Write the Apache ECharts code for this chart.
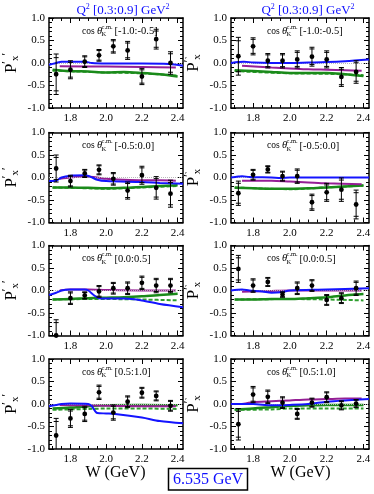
<!DOCTYPE html>
<html>
<head>
<meta charset="utf-8">
<script src="https://cdn.jsdelivr.net/npm/echarts@6/dist/echarts.min.js"></script>
<style>
html, body { margin: 0; padding: 0; background: #fff; }
#chart { width: 374px; height: 494px; }
</style>
</head>
<body>
<div id="chart"></div>
<script>
// measured W points (GeV)
var wPoints = [1.72, 1.80, 1.88, 1.96, 2.04, 2.12, 2.20, 2.28, 2.36];
var binLabels = ['[-1.0:-0.5]', '[-0.5:0.0]', '[0.0:0.5]', '[0.5:1.0]'];
var xTickLabels = [1.8, 2.0, 2.2, 2.4];
var xMinorTicks = [1.70, 1.75, 1.85, 1.90, 1.95, 2.05, 2.10, 2.15, 2.25, 2.30, 2.35];
var yTickLabels = [-1.0, -0.5, 0.0, 0.5, 1.0];

// left column (P'x')
var pxL1 = [-0.25, -0.15, 0.03, 0.17, 0.37, 0.28, -0.30, 0.53, 0.00];
var errL1 = [0.45, 0.20, 0.13, 0.13, 0.15, 0.20, 0.18, 0.22, 0.25];
var pxL2 = [0.20, -0.08, 0.09, 0.17, -0.03, -0.29, 0.05, -0.23, -0.36];
var errL2 = [0.30, 0.13, 0.09, 0.11, 0.14, 0.19, 0.20, 0.25, 0.30];
var pxL3 = [-1.00, -0.17, -0.11, -0.02, 0.05, 0.05, 0.17, 0.11, 0.11];
var errL3 = [0.35, 0.14, 0.08, 0.13, 0.13, 0.14, 0.15, 0.16, 0.16];
var pxL4 = [-0.70, -0.32, -0.22, 0.26, -0.19, 0.05, 0.25, 0.18, -0.04];
var errL4 = [0.38, 0.20, 0.17, 0.16, 0.17, 0.13, 0.12, 0.11, 0.12];

// right column (P'x)
var pxR1 = [0.15, 0.37, 0.05, 0.05, 0.08, 0.14, 0.08, -0.31, -0.20];
var errR1 = [0.42, 0.19, 0.16, 0.16, 0.19, 0.21, 0.19, 0.21, 0.25];
var pxR2 = [-0.35, 0.06, 0.18, 0.03, 0.03, -0.55, -0.33, -0.27, -0.60];
var errR2 = [0.27, 0.12, 0.08, 0.11, 0.16, 0.18, 0.20, 0.26, 0.32];
var pxR3 = [0.48, 0.11, 0.19, -0.09, 0.05, 0.11, -0.21, -0.17, 0.05];
var errR3 = [0.30, 0.15, 0.10, 0.06, 0.14, 0.13, 0.12, 0.12, 0.16];
var pxR4 = [-0.45, 0.21, 0.16, 0.03, -0.22, 0.03, 0.15, -0.03, 0.01];
var errR4 = [0.35, 0.18, 0.15, 0.13, 0.12, 0.10, 0.12, 0.10, 0.09];

// model curves [W, P]
var blueL1 = [[1.68, -0.04], [1.70, -0.02], [1.72, 0.00], [1.75, 0.03], [1.80, 0.03], [1.88, 0.03], [1.92, 0.00], [2.00, -0.01], [2.20, -0.01], [2.35, -0.02], [2.43, -0.06]];
var purpleL1 = [[1.74, -0.07], [2.00, -0.08], [2.20, -0.09], [2.39, -0.10]];
var greenL1 = [[1.70, -0.15], [1.80, -0.18], [1.90, -0.19], [2.00, -0.21], [2.10, -0.20], [2.20, -0.22], [2.30, -0.25], [2.40, -0.30]];
var dashL1 = [[1.70, -0.17], [2.00, -0.21], [2.20, -0.23], [2.40, -0.28]];

var blueL2 = [[1.68, -0.08], [1.72, -0.07], [1.75, 0.00], [1.80, 0.04], [1.88, 0.05], [1.91, 0.02], [1.95, -0.05], [2.00, -0.08], [2.20, -0.10], [2.30, -0.12], [2.43, -0.14]];
var purpleL2 = [[1.74, -0.03], [1.80, 0.00], [1.88, 0.02], [1.95, 0.00], [2.00, -0.03], [2.10, -0.05], [2.20, -0.06], [2.30, -0.06], [2.39, -0.07]];
var greenL2 = [[1.70, -0.22], [1.80, -0.22], [1.90, -0.23], [2.00, -0.24], [2.10, -0.23], [2.20, -0.21], [2.30, -0.19], [2.40, -0.17]];
var dashL2 = [[1.70, -0.22], [1.90, -0.24], [2.00, -0.25], [2.20, -0.22], [2.40, -0.19]];

var blueL3 = [[1.68, -0.10], [1.72, -0.05], [1.75, 0.00], [1.80, 0.02], [1.88, 0.02], [1.90, 0.00], [1.93, -0.10], [1.96, -0.17], [2.00, -0.18], [2.10, -0.18], [2.20, -0.22], [2.30, -0.30], [2.43, -0.37]];
var purpleL3 = [[1.74, 0.00], [1.80, 0.02], [1.90, 0.02], [2.00, 0.01], [2.20, 0.00], [2.39, 0.00]];
var greenL3 = [[1.70, -0.20], [1.80, -0.19], [1.90, -0.17], [2.00, -0.16], [2.10, -0.15], [2.20, -0.13], [2.30, -0.10], [2.40, -0.07]];
var dashL3 = [[1.70, -0.20], [1.90, -0.19], [2.00, -0.19], [2.20, -0.20], [2.40, -0.22]];

var blueL4 = [[1.68, -0.05], [1.72, -0.02], [1.75, 0.00], [1.80, 0.01], [1.90, 0.00], [1.92, -0.05], [1.95, -0.20], [2.00, -0.21], [2.05, -0.22], [2.20, -0.30], [2.30, -0.38], [2.43, -0.43]];
var purpleL4 = [[1.74, -0.02], [1.90, -0.03], [2.00, -0.04], [2.20, -0.05], [2.39, -0.05]];
var greenL4 = [[1.70, -0.10], [1.80, -0.08], [1.90, -0.05], [2.00, -0.03], [2.20, -0.02], [2.40, -0.03]];
var dashL4 = [[1.70, -0.13], [1.90, -0.11], [2.00, -0.10], [2.20, -0.10], [2.40, -0.11]];

var blueR1 = [[1.68, 0.00], [1.72, 0.02], [1.75, 0.03], [1.80, 0.01], [1.90, 0.00], [2.00, 0.00], [2.10, 0.01], [2.20, 0.02], [2.30, 0.04], [2.43, 0.08]];
var purpleR1 = [[1.74, -0.06], [1.90, -0.10], [2.00, -0.12], [2.10, -0.14], [2.20, -0.15], [2.30, -0.16], [2.39, -0.17]];
var greenR1 = [[1.70, -0.16], [1.80, -0.18], [1.90, -0.20], [2.00, -0.22], [2.10, -0.22], [2.20, -0.22], [2.30, -0.25], [2.40, -0.29]];
var dashR1 = [[1.70, -0.18], [2.00, -0.23], [2.20, -0.24], [2.40, -0.27]];

var blueR2 = [[1.68, 0.00], [1.72, 0.02], [1.74, 0.03], [1.78, 0.01], [1.90, 0.00], [1.95, -0.01], [2.00, 0.00], [2.20, 0.00], [2.43, 0.00]];
var purpleR2 = [[1.74, -0.07], [1.90, -0.07], [2.00, -0.09], [2.10, -0.11], [2.20, -0.13], [2.39, -0.15]];
var greenR2 = [[1.70, -0.23], [1.80, -0.24], [1.90, -0.25], [2.00, -0.25], [2.10, -0.24], [2.20, -0.22], [2.30, -0.20], [2.40, -0.18]];
var dashR2 = [[1.70, -0.22], [2.00, -0.26], [2.20, -0.22], [2.40, -0.18]];

var blueR3 = [[1.68, 0.00], [1.74, 0.02], [1.78, 0.00], [1.85, -0.02], [1.90, -0.05], [1.95, -0.04], [2.00, 0.00], [2.20, 0.02], [2.43, 0.05]];
var purpleR3 = [[1.74, -0.03], [1.90, -0.01], [2.00, 0.00], [2.20, 0.00], [2.39, 0.00]];
var greenR3 = [[1.70, -0.20], [1.80, -0.20], [1.90, -0.19], [2.00, -0.19], [2.10, -0.17], [2.20, -0.15], [2.30, -0.11], [2.40, -0.08]];
var dashR3 = [[1.70, -0.20], [2.00, -0.19], [2.20, -0.20], [2.40, -0.22]];

var blueR4 = [[1.68, 0.00], [1.80, 0.00], [1.90, -0.03], [2.00, -0.02], [2.10, 0.00], [2.20, 0.05], [2.30, 0.08], [2.43, 0.11]];
var purpleR4 = [[1.74, 0.00], [1.80, 0.04], [1.90, 0.06], [2.00, 0.08], [2.10, 0.10], [2.20, 0.11], [2.30, 0.12], [2.39, 0.12]];
var greenR4 = [[1.70, -0.12], [1.80, -0.10], [1.90, -0.07], [2.00, -0.04], [2.10, -0.03], [2.20, -0.02], [2.40, -0.02]];
var dashR4 = [[1.70, -0.13], [1.90, -0.12], [2.00, -0.10], [2.20, -0.10], [2.40, -0.10]];

var panels = [
  { col: 0, row: 0, px: pxL1, err: errL1, blue: blueL1, purple: purpleL1, green: greenL1, dash: dashL1 },
  { col: 1, row: 0, px: pxR1, err: errR1, blue: blueR1, purple: purpleR1, green: greenR1, dash: dashR1 },
  { col: 0, row: 1, px: pxL2, err: errL2, blue: blueL2, purple: purpleL2, green: greenL2, dash: dashL2 },
  { col: 1, row: 1, px: pxR2, err: errR2, blue: blueR2, purple: purpleR2, green: greenR2, dash: dashR2 },
  { col: 0, row: 2, px: pxL3, err: errL3, blue: blueL3, purple: purpleL3, green: greenL3, dash: dashL3 },
  { col: 1, row: 2, px: pxR3, err: errR3, blue: blueR3, purple: purpleR3, green: greenR3, dash: dashR3 },
  { col: 0, row: 3, px: pxL4, err: errL4, blue: blueL4, purple: purpleL4, green: greenL4, dash: dashL4 },
  { col: 1, row: 3, px: pxR4, err: errR4, blue: blueR4, purple: purpleR4, green: greenR4, dash: dashR4 }
];

var serif = '"Liberation Serif", "DejaVu Serif", serif';
var gridLefts = [46, 231];
var gridWidths = [137, 138];
var gridTops = [18, 132.5, 245.5, 359];
var gridHeight = 90;
var wMin = 1.68, wMax = 2.43;
var blue = '#1010ff';

function fmt(v) {
  return Number(v).toFixed(1);
}

function renderErr(params, api) {
  var x = api.value(0), y = api.value(1), e = api.value(2);
  var c = api.coord([x, y]);
  var hi = api.coord([x, Math.min(y + e, 1)]);
  var lo = api.coord([x, Math.max(y - e, -1)]);
  var st = { stroke: '#000', lineWidth: 1 };
  var kids = [{ type: 'line', shape: { x1: c[0], y1: hi[1], x2: c[0], y2: lo[1] }, style: st }];
  var capAt = function (v) {
    if (v > 1 || v < -1) return;
    var p = api.coord([x, v]);
    kids.push({ type: 'line', shape: { x1: c[0] - 2.5, y1: p[1], x2: c[0] + 2.5, y2: p[1] }, style: st });
  };
  capAt(y + e); capAt(y - e);
  capAt(y + e * 0.82); capAt(y - e * 0.82);
  kids.push({ type: 'circle', shape: { cx: c[0], cy: c[1], r: 2.4 }, style: { fill: '#000' } });
  return { type: 'group', children: kids };
}

var grids = [], xAxes = [], yAxes = [], series = [], graphics = [];

panels.forEach(function (p, i) {
  var left = gridLefts[p.col], top = gridTops[p.row];
  grids.push({ left: left, top: top, width: gridWidths[p.col], height: gridHeight });

  var frame = { show: true, onZero: false, lineStyle: { color: '#000', width: 1.5 } };
  var noLine = { show: false, onZero: false };
  var xBase = { type: 'value', gridIndex: i, min: wMin, max: wMax, splitLine: { show: false } };
  xAxes.push(Object.assign({}, xBase, {
    position: 'bottom', axisLine: frame,
    axisTick: { inside: true, length: 5, customValues: xTickLabels, lineStyle: { color: '#000' } },
    axisLabel: { customValues: xTickLabels, formatter: fmt, color: '#000', fontFamily: serif, fontSize: 11, margin: 5 }
  }));
  xAxes.push(Object.assign({}, xBase, {
    position: 'bottom', axisLine: noLine,
    axisTick: { inside: true, length: 3, customValues: xMinorTicks, lineStyle: { color: '#000' } },
    axisLabel: { show: false }
  }));
  xAxes.push(Object.assign({}, xBase, {
    position: 'top', axisLine: frame,
    axisTick: { inside: true, length: 5, customValues: xTickLabels, lineStyle: { color: '#000' } },
    axisLabel: { show: false }
  }));
  xAxes.push(Object.assign({}, xBase, {
    position: 'top', axisLine: noLine,
    axisTick: { inside: true, length: 3, customValues: xMinorTicks, lineStyle: { color: '#000' } },
    axisLabel: { show: false }
  }));

  var yBase = {
    type: 'value', gridIndex: i, min: -1, max: 1, interval: 0.5, splitLine: { show: false },
    axisLine: frame,
    axisTick: { inside: true, length: 5, lineStyle: { color: '#000' } },
    minorTick: { show: true, splitNumber: 5, length: 3, lineStyle: { color: '#000' } }
  };
  var yName = p.col === 0 ? '{n|P}{s|′}{b|x}{s|′}' : '{n|P}{s|′}{b|x}';
  yAxes.push(Object.assign({}, yBase, {
    position: 'left',
    axisLabel: { formatter: fmt, color: '#000', fontFamily: serif, fontSize: 11, margin: 4 },
    name: yName, nameLocation: 'middle', nameRotate: 90, nameGap: 27,
    nameTextStyle: {
      color: '#000', fontFamily: serif, fontSize: 16,
      rich: {
        n: { fontSize: 17, fontFamily: serif, color: '#000' },
        s: { fontSize: 12, fontFamily: serif, color: '#000', padding: [0, 0, 9, 0] },
        b: { fontSize: 11, fontFamily: serif, color: '#000', padding: [8, 0, 0, 0] }
      }
    }
  }));
  yAxes.push(Object.assign({}, yBase, { position: 'right', axisLabel: { show: false } }));

  var xi = 4 * i, yi = 2 * i;
  series.push({
    type: 'line', xAxisIndex: xi, yAxisIndex: yi, data: p.dash, showSymbol: false, smooth: 0.3,
    lineStyle: { color: '#2e9e2e', width: 2, type: [4, 2] }, silent: true, z: 2,
    markLine: {
      silent: true, symbol: 'none', label: { show: false },
      lineStyle: { color: '#b8b8b8', type: 'dotted', width: 1 },
      data: [{ yAxis: 0 }]
    }
  });
  series.push({
    type: 'line', xAxisIndex: xi, yAxisIndex: yi, data: p.green, showSymbol: false, smooth: 0.3,
    lineStyle: { color: '#1a8a1a', width: 2.5 }, silent: true, z: 3
  });
  series.push({
    type: 'line', xAxisIndex: xi, yAxisIndex: yi, data: p.purple, showSymbol: false, smooth: 0.3,
    lineStyle: { color: '#951f95', width: 2 }, silent: true, z: 4
  });
  series.push({
    type: 'line', xAxisIndex: xi, yAxisIndex: yi, data: p.blue, showSymbol: false, smooth: 0.3,
    lineStyle: { color: '#1414ff', width: 2 }, silent: true, z: 5
  });
  series.push({
    type: 'custom', xAxisIndex: xi, yAxisIndex: yi, z: 10, renderItem: renderErr,
    data: wPoints.map(function (w, k) { return [w, p.px[k], p.err[k]]; })
  });

  // cos theta annotation
  var ty = top + 13;
  graphics.push({ type: 'text', x: left + 36, y: ty, style: { text: 'cos', font: '9.5px ' + serif, fill: '#000', verticalAlign: 'middle' } });
  graphics.push({ type: 'text', x: left + 51, y: ty, style: { text: 'θ', font: 'italic 10.5px ' + serif, fill: '#000', verticalAlign: 'middle' } });
  graphics.push({ type: 'text', x: left + 55.5, y: ty - 4, style: { text: 'c.m.', font: '6.5px ' + serif, fill: '#000', verticalAlign: 'middle' } });
  graphics.push({ type: 'text', x: left + 55.5, y: ty + 3.5, style: { text: 'K', font: '6.5px ' + serif, fill: '#000', verticalAlign: 'middle' } });
  graphics.push({ type: 'text', x: left + 68.5, y: ty + 0.5, style: { text: binLabels[p.row], font: '10.5px ' + serif, fill: '#000', verticalAlign: 'middle' } });

  if (p.col === 0) {
    graphics.push({ type: 'text', x: 186, y: top + gridHeight / 2 - 2, style: { text: '′', font: '9px ' + serif, fill: '#000', align: 'center', verticalAlign: 'middle' } });
  }
});

// column titles and x-axis titles
[123, 308].forEach(function (cx) {
  graphics.push({
    type: 'text', x: cx, y: 11,
    style: {
      text: '{n|Q}{s|2}{n| [0.3:0.9] GeV}{s|2}', align: 'center', verticalAlign: 'middle',
      rich: {
        n: { fontSize: 13, fontFamily: serif, fill: blue },
        s: { fontSize: 8, fontFamily: serif, fill: blue, padding: [0, 0, 8, 0] }
      }
    }
  });
});
[115.5, 300.5].forEach(function (cx) {
  graphics.push({ type: 'text', x: cx, y: 473, style: { text: 'W (GeV)', font: '16px ' + serif, fill: '#000', align: 'center', verticalAlign: 'middle' } });
});
graphics.push({ type: 'rect', shape: { x: 168.5, y: 468.5, width: 79, height: 21.5 }, style: { fill: '#fff', stroke: '#000', lineWidth: 1.5 } });
graphics.push({ type: 'text', x: 208, y: 479.5, style: { text: '6.535 GeV', font: '16px ' + serif, fill: blue, align: 'center', verticalAlign: 'middle' } });

var chart = echarts.init(document.getElementById('chart'));
chart.setOption({
  animation: false,
  backgroundColor: '#fff',
  grid: grids,
  xAxis: xAxes,
  yAxis: yAxes,
  series: series,
  graphic: { elements: graphics }
});
</script>
</body>
</html>
